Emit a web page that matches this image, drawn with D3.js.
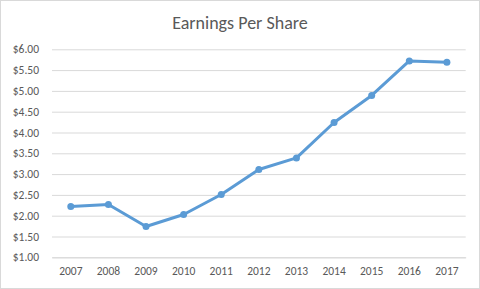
<!DOCTYPE html>
<html>
<head>
<meta charset="utf-8">
<script src="https://cdn.jsdelivr.net/npm/d3@7"></script>
<style>
  html, body { margin: 0; padding: 0; background: #fff; }
  svg { display: block; }
</style>
</head>
<body>
<div id="chart"></div>
<script>
const years = ["2007","2008","2009","2010","2011","2012","2013","2014","2015","2016","2017"];
const eps = [2.22, 2.27, 1.74, 2.03, 2.51, 3.11, 3.39, 4.24, 4.89, 5.72, 5.69];
const yTicks = [1, 1.5, 2, 2.5, 3, 3.5, 4, 4.5, 5, 5.5, 6];

const width = 480, height = 289;
const margin = { top: 49.3, right: 14.3, bottom: 31.7, left: 52 };
const font = "Carlito, Calibri, 'Open Sans', sans-serif";

const svg = d3.select("#chart").append("svg")
  .attr("width", width)
  .attr("height", height);

// chart border
svg.append("rect")
  .attr("x", 0.5).attr("y", 0.5)
  .attr("width", width - 1).attr("height", height - 1)
  .attr("fill", "#fff")
  .attr("stroke", "#d9d9d9");

let x = d3.scaleBand()
  .domain(years)
  .range([margin.left, width - margin.right]);

let y = d3.scaleLinear()
  .domain([1, 6])
  .range([height - margin.bottom, margin.top]);

svg.append("text")
  .attr("x", width / 2)
  .attr("y", 29)
  .attr("text-anchor", "middle")
  .attr("fill", "#595959")
  .style("font-family", font)
  .style("font-size", "18px")
  .text("Earnings Per Share");

// y axis with gridlines
let yAxis = svg.append("g")
  .attr("transform", `translate(${margin.left},0)`)
  .call(d3.axisLeft(y)
    .tickValues(yTicks)
    .tickSize(-(width - margin.left - margin.right))
    .tickPadding(13)
    .tickFormat(d => "$" + d3.format(".2f")(d)));
yAxis.select(".domain").remove();
yAxis.selectAll(".tick line").attr("stroke", "#d9d9d9");
yAxis.selectAll(".tick text")
  .attr("fill", "#595959")
  .style("font-family", font)
  .style("font-size", "11.5px");

// x axis
let xAxis = svg.append("g")
  .attr("transform", `translate(0,${height - margin.bottom})`)
  .call(d3.axisBottom(x).tickSize(0).tickPadding(10));
xAxis.select(".domain").attr("stroke", "#d9d9d9");
xAxis.selectAll(".tick text")
  .attr("fill", "#595959")
  .style("font-family", font)
  .style("font-size", "11.5px");

const pts = years.map((yr, i) => ({ year: yr, value: eps[i] }));

let line = d3.line()
  .x(d => x(d.year) + x.bandwidth() / 2)
  .y(d => y(d.value));

svg.append("path")
  .datum(pts)
  .attr("d", line)
  .attr("fill", "none")
  .attr("stroke", "#5b9bd5")
  .attr("stroke-width", 3)
  .attr("stroke-linejoin", "round")
  .attr("stroke-linecap", "round");

svg.selectAll(".dot")
  .data(pts)
  .enter().append("circle")
  .attr("class", "dot")
  .attr("cx", d => x(d.year) + x.bandwidth() / 2)
  .attr("cy", d => y(d.value))
  .attr("r", 3.5)
  .attr("fill", "#5b9bd5");
</script>
</body>
</html>
